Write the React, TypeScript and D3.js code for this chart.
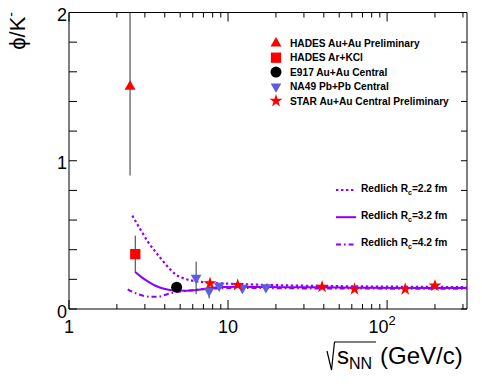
import React, { useRef, useEffect } from 'react';
import * as d3 from 'd3';

const W = 482;
const H = 384;

// measured points: sqrt(s_NN), phi/K-, stat. error
const hadesAuAuS = [2.42];
const hadesAuAuPhiK = [1.5];
const hadesAuAuErr = [0.6];

const hadesArKClS = [2.61];
const hadesArKClPhiK = [0.37];
const hadesArKClErr = [0.125];

const e917S = [4.75];
const e917PhiK = [0.147];
const e917Err = [0.012];

const na49S = [6.3, 7.6, 8.8, 12.3, 17.3];
const na49PhiK = [0.21, 0.122, 0.156, 0.142, 0.146];
const na49Err = [0.11, 0.05, 0.015, 0.015, 0.012];

const starS = [7.7, 11.5, 39, 62.4, 130, 200];
const starPhiK = [0.173, 0.162, 0.15, 0.134, 0.134, 0.157];
const starErr = [0.01, 0.01, 0.008, 0.008, 0.008, 0.008];

// Redlich canonical suppression curves
const redlich22S = [2.5, 2.8, 3.15, 3.5, 3.85, 4.3, 4.7, 5.3, 6.2, 7.5, 9, 12, 17, 30, 60, 130, 318];
const redlich22PhiK = [0.63, 0.54, 0.45, 0.385, 0.33, 0.27, 0.232, 0.205, 0.188, 0.178, 0.173, 0.168, 0.163, 0.157, 0.153, 0.15, 0.148];

const redlich32S = [2.61, 2.9, 3.2, 3.5, 3.9, 4.3, 4.8, 5.5, 6.2, 7.0, 8.0, 9.5, 12, 17, 30, 60, 130, 318];
const redlich32PhiK = [0.25, 0.21, 0.18, 0.157, 0.138, 0.128, 0.124, 0.123, 0.126, 0.135, 0.144, 0.149, 0.15, 0.148, 0.146, 0.144, 0.142, 0.141];

const redlich42S = [2.34, 2.55, 2.75, 3.0, 3.3, 3.65, 4.0, 4.5, 5.2, 6.0, 7.0, 8.5, 11, 16, 30, 60, 130, 318];
const redlich42PhiK = [0.133, 0.112, 0.098, 0.087, 0.082, 0.083, 0.095, 0.11, 0.12, 0.127, 0.134, 0.139, 0.141, 0.141, 0.139, 0.138, 0.137, 0.136];

const markerLabels = [
  'HADES Au+Au Preliminary',
  'HADES Ar+KCl',
  'E917 Au+Au Central',
  'NA49 Pb+Pb Central',
  'STAR Au+Au Central Preliminary',
];
const curveRadii = ['2.2', '3.2', '4.2'];

const yTickValues = [0, 0.2, 0.4, 0.6, 0.8, 1, 1.2, 1.4, 1.6, 1.8, 2];
const yTickLabels = ['0', '1', '2'];
const xMajorTicks = [1, 10, 100];

const RED = '#ff0000';
const BLUE = '#5c5ce0';
const PURPLE = '#8c00ff';
const FONT = '"Liberation Sans", Arial, Helvetica, sans-serif';

const App = () => {
  const svgRef = useRef<SVGSVGElement>(null);

  useEffect(() => {
    if (!svgRef.current) return;
    const svg = d3.select(svgRef.current);
    svg.selectAll('*').remove();

    const left = 69, right = 467, top = 12.5, bottom = 309;

    const x = d3.scaleLog().domain([1, 318]).range([left, right]);
    const y = d3.scaleLinear().domain([0, 2]).range([bottom, top]);

    svg.append('rect').attr('width', W).attr('height', H).attr('fill', '#fff');

    svg.append('defs').append('clipPath').attr('id', 'frame')
      .append('rect')
      .attr('x', left).attr('y', top)
      .attr('width', right - left).attr('height', bottom - top);

    // ticks
    const minor: number[] = [];
    [1, 10, 100].forEach(d => {
      for (let k = 2; k <= 9; k++) if (d * k <= 318) minor.push(d * k);
    });
    const tickG = svg.append('g').attr('stroke', '#000').attr('stroke-width', 1);
    minor.forEach(v => {
      tickG.append('line').attr('x1', x(v)).attr('x2', x(v)).attr('y1', bottom).attr('y2', bottom - 5);
      tickG.append('line').attr('x1', x(v)).attr('x2', x(v)).attr('y1', top).attr('y2', top + 5);
    });
    xMajorTicks.forEach(v => {
      tickG.append('line').attr('x1', x(v)).attr('x2', x(v)).attr('y1', bottom).attr('y2', bottom - 9);
      tickG.append('line').attr('x1', x(v)).attr('x2', x(v)).attr('y1', top).attr('y2', top + 9);
    });
    yTickValues.forEach(v => {
      tickG.append('line').attr('x1', left).attr('x2', left + 8).attr('y1', y(v)).attr('y2', y(v));
      tickG.append('line').attr('x1', right).attr('x2', right - 6).attr('y1', y(v)).attr('y2', y(v));
    });

    // frame
    const frame = svg.append('g').attr('stroke', '#000').attr('stroke-width', 1);
    frame.append('line').attr('x1', left).attr('x2', right).attr('y1', top).attr('y2', top);
    frame.append('line').attr('x1', left).attr('x2', right).attr('y1', bottom).attr('y2', bottom);
    frame.append('line').attr('x1', left).attr('x2', left).attr('y1', top).attr('y2', bottom);
    frame.append('line').attr('x1', right).attr('x2', right).attr('y1', top).attr('y2', bottom);

    // tick labels
    yTickLabels.forEach(t => {
      svg.append('text')
        .attr('x', 67).attr('y', y(+t) + 8.5)
        .attr('text-anchor', 'end')
        .style('font-family', FONT).style('font-size', '18px')
        .text(t);
    });
    xMajorTicks.forEach(v => {
      const t = svg.append('text')
        .attr('x', v === 100 ? x(v) - 5 : x(v)).attr('y', 333)
        .attr('text-anchor', 'middle')
        .style('font-family', FONT).style('font-size', '18px');
      if (v === 100) {
        t.append('tspan').text('10');
        t.append('tspan').attr('dy', -8).style('font-size', '13px').text('2');
      } else {
        t.text(String(v));
      }
    });

    // axis titles
    svg.append('path')
      .attr('d', 'M327,351 L331.5,370 L334.5,342 L376,342')
      .attr('fill', 'none').attr('stroke', '#000').attr('stroke-width', 1.2);
    const xt = svg.append('text')
      .attr('x', 337).attr('y', 364)
      .style('font-family', FONT).style('font-size', '24px');
    xt.append('tspan').text('s');
    xt.append('tspan').attr('dy', 4.5).style('font-size', '16px').text('NN');
    xt.append('tspan').attr('x', 380).attr('dy', -4.5).text('(GeV/c)');

    const yt = svg.append('text')
      .attr('transform', 'translate(25,12) rotate(-90)')
      .attr('text-anchor', 'end')
      .style('font-family', FONT).style('font-size', '22px');
    yt.append('tspan').text('\u03d5/K');
    yt.append('tspan').attr('dy', -9).style('font-size', '14px').text('-');

    // curves
    const plot = svg.append('g').attr('clip-path', 'url(#frame)');
    const curves = [
      { s: redlich22S, v: redlich22PhiK, dash: '2.4 2.6', w: 2.2 },
      { s: redlich32S, v: redlich32PhiK, dash: null, w: 2 },
      { s: redlich42S, v: redlich42PhiK, dash: '5 3 1.6 3', w: 2 },
    ];
    const line = d3.line<[number, number]>()
      .x(d => x(d[0]))
      .y(d => y(d[1]))
      .curve(d3.curveMonotoneX);
    curves.forEach(c => {
      plot.append('path')
        .datum(c.s.map((s, i) => [s, c.v[i]] as [number, number]))
        .attr('d', line)
        .attr('fill', 'none')
        .attr('stroke', PURPLE)
        .attr('stroke-width', c.w)
        .attr('stroke-dasharray', c.dash);
    });

    // data series
    const series = [
      { s: hadesAuAuS, v: hadesAuAuPhiK, e: hadesAuAuErr, type: d3.symbolTriangle, size: 52, rot: 0, color: RED },
      { s: hadesArKClS, v: hadesArKClPhiK, e: hadesArKClErr, type: d3.symbolSquare, size: 106, rot: 0, color: RED },
      { s: e917S, v: e917PhiK, e: e917Err, type: d3.symbolCircle, size: 95, rot: 0, color: '#000' },
      { s: na49S, v: na49PhiK, e: na49Err, type: d3.symbolTriangle, size: 50, rot: 180, color: BLUE },
      { s: starS, v: starPhiK, e: starErr, type: d3.symbolStar, size: 52, rot: 0, color: RED },
    ];

    series.forEach(sr => {
      sr.s.forEach((s, i) => {
        plot.append('line')
          .attr('x1', x(s)).attr('x2', x(s))
          .attr('y1', y(sr.v[i] - sr.e[i])).attr('y2', y(sr.v[i] + sr.e[i]))
          .attr('stroke', '#333').attr('stroke-width', 1);
      });
    });
    series.forEach(sr => {
      const sym = d3.symbol().type(sr.type).size(sr.size);
      sr.s.forEach((s, i) => {
        plot.append('path')
          .attr('d', sym()!)
          .attr('transform', `translate(${x(s)},${y(sr.v[i])}) rotate(${sr.rot})`)
          .attr('fill', sr.color);
      });
    });

    // legend: markers
    const legend = svg.append('g');
    series.forEach((sr, i) => {
      const cy = 43.3 + i * 14.4;
      legend.append('path')
        .attr('d', d3.symbol().type(sr.type).size(sr.size)()!)
        .attr('transform', `translate(276,${cy}) rotate(${sr.rot})`)
        .attr('fill', sr.color);
      legend.append('text')
        .attr('x', 290).attr('y', cy + 3.6)
        .style('font-family', FONT).style('font-size', '10.2px').style('font-weight', 'bold')
        .text(markerLabels[i]);
    });

    // legend: curves
    curves.forEach((c, i) => {
      const cy = 190 + i * 27.2;
      legend.append('line')
        .attr('x1', 336).attr('x2', 356).attr('y1', cy).attr('y2', cy)
        .attr('stroke', PURPLE).attr('stroke-width', c.w)
        .attr('stroke-dasharray', c.dash);
      const t = legend.append('text')
        .attr('x', 361).attr('y', cy + 2)
        .style('font-family', FONT).style('font-size', '10.2px').style('font-weight', 'bold');
      t.append('tspan').text('Redlich R');
      t.append('tspan').attr('dy', 3).style('font-size', '7px').text('c');
      t.append('tspan').attr('dy', -3).text(`=${curveRadii[i]} fm`);
    });
  }, []);

  return (
    <svg
      ref={svgRef}
      width={W}
      height={H}
      style={{ position: 'fixed', left: 0, top: 0, display: 'block' }}
    />
  );
};

export default App;
